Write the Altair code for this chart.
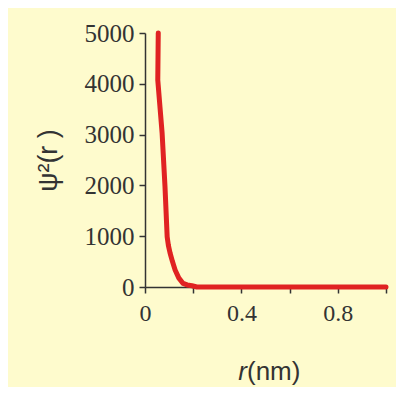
import altair as alt
import pandas as pd

# data
r_nm = [0.055, 0.053, 0.062, 0.071, 0.083, 0.092, 0.097, 0.104, 0.114, 0.125,
        0.140, 0.158, 0.175, 0.195, 0.215, 0.4, 0.6, 0.8, 1.0]
psi2 = [5000, 4075, 3550, 3030, 1970, 985, 820, 670, 500, 335,
        180, 70, 40, 25, 0, 0, 0, 0, 0]
x_ticks = [0, 0.2, 0.4, 0.6, 0.8, 1.0]
y_ticks = [0, 1000, 2000, 3000, 4000, 5000]

df = pd.DataFrame({"r": r_nm, "psi2": psi2, "i": list(range(len(r_nm)))})

W, H = 241, 254

line = alt.Chart(df).mark_line(color="#E02222", strokeWidth=5, strokeCap="round", strokeJoin="round").encode(
    x=alt.X("r:Q", scale=alt.Scale(domain=[0, 1], nice=False),
            axis=alt.Axis(values=x_ticks, title=None, grid=False, labelFlush=False,
                          labelExpr="datum.value == 0 ? '0' : (round(datum.value*10) % 4 == 0 ? format(datum.value, '.1f') : '')",
                          labelFont="Liberation Serif", labelFontSize=24, labelColor="#333333",
                          labelPadding=8, tickSize=6, tickColor="#333333", domainColor="#333333",
                          domainWidth=1.5, tickWidth=1.5)),
    y=alt.Y("psi2:Q", scale=alt.Scale(domain=[0, 5000], nice=False),
            axis=alt.Axis(values=y_ticks, title="ψ²(r )", grid=False, format="d", labelFlush=False,
                          labelFont="Liberation Serif", labelFontSize=25, labelColor="#333333",
                          labelPadding=5, tickSize=6, tickColor="#333333", domainColor="#333333",
                          domainWidth=1.5, tickWidth=1.5,
                          titleFont="Liberation Sans", titleFontSize=27, titleFontWeight="normal",
                          titleColor="#333333", titleAngle=270, titleAlign="center",
                          titleBaseline="middle", titleX=-97, titleY=127)),
    order="i:Q",
)

xt1 = alt.Chart(pd.DataFrame({"t": ["r"]})).mark_text(
    font="Liberation Sans", fontSize=26, fontStyle="italic", color="#333333",
    align="right", baseline="middle").encode(
    text="t:N", x=alt.value(102), y=alt.value(H + 85))
xt2 = alt.Chart(pd.DataFrame({"t": ["(nm)"]})).mark_text(
    font="Liberation Sans", fontSize=26, color="#333333",
    align="left", baseline="middle").encode(
    text="t:N", x=alt.value(102), y=alt.value(H + 85))

chart = alt.layer(line, xt1, xt2).properties(
    width=W, height=H,
    autosize=alt.AutoSizeParams(type="none"),
    padding={"left": 137, "top": 25, "right": 10, "bottom": 100},
    background="#FEFBCD",
).configure_view(stroke=None)

chart.save("out.html", embed_options={"renderer": "svg", "actions": False})
